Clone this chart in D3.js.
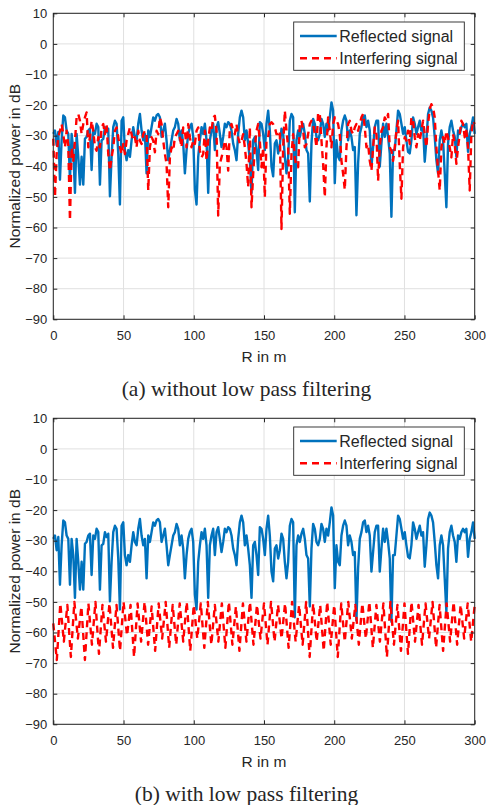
<!DOCTYPE html>
<html>
<head>
<meta charset="utf-8">
<script src="https://cdn.jsdelivr.net/npm/d3@7"></script>
<style>
  body { margin: 0; background: #fff; }
  text { font-family: "Liberation Sans", Arial, sans-serif; fill: #262626; }
</style>
</head>
<body>
<script>
const xTicks = [0, 50, 100, 150, 200, 250, 300];
const yTicks = [10, 0, -10, -20, -30, -40, -50, -60, -70, -80, -90];
const seriesNames = ["Reflected signal", "Interfering signal"];
const captions = ["(a) without low pass filtering", "(b) with low pass filtering"];
const xLabel = "R in m";
const yLabel = "Normalized power in dB";

// reflected signal, evenly spaced over 0..300 m (same in both panels)
const reflectedDb = [
  -29.4, -28.3, -33.1, -28.8, -44.4, -31.5, -23.4, -24, -28.3, -29.4,
  -44.4, -29.4, -34.7, -48.7, -29.4, -36.9, -46, -36.9, -46, -31,
  -30.4, -28.3, -27.7, -41.2, -28.3, -29.4, -26.1, -27.2, -46, -31.5,
  -31, -27.2, -28.8, -27.7, -49.8, -36.9, -27.2, -25.1, -26.1, -35.8,
  -52.5, -25.1, -24, -34.7, -38, -34.7, -36.9, -31.5, -27.2, -30.4,
  -31.5, -26.1, -22.9, -28.3, -31.5, -29.4, -42.3, -28.3, -30.4, -27.2,
  -24, -25.1, -23.4, -22.9, -24, -30.4, -28.3, -26.1, -31.5, -38,
  -34.7, -31.5, -28.3, -27.2, -24.5, -26.1, -31.5, -28.3, -32.6, -42.3,
  -34.7, -29.4, -27.2, -26.1, -30.4, -47.6, -52.5, -36.9, -31.5, -27.2,
  -29.4, -26.1, -31.5, -48.7, -31.5, -28.3, -26.1, -34.7, -27.2, -25.6,
  -29.4, -33.7, -30.4, -26.1, -27.2, -25.6, -26.1, -28.3, -32.6, -34.7,
  -38, -29.4, -24, -21.8, -24, -31.5, -28.3, -32.6, -38, -48.7,
  -31.5, -30.4, -34.7, -41.2, -25.6, -26.1,
  -29.4, -34.7, -26.1, -21.8, -28.3, -40.1, -43.3, -32.6, -31.5, -35.8,
  -33.1, -27.7, -29.4, -36.9, -42.3, -36.9, -25.1, -22.9, -24, -55,
  -31.5, -28.3, -30.4, -27.7, -26.1, -29.4, -34.7, -35.8, -51.5, -32.6,
  -24.5, -26.1, -30.4, -31.5, -29.4, -24.5, -26.1, -30.4, -26.1, -28.3,
  -24, -19.1, -21.8, -45.5, -31.5, -36.9, -38, -28.3, -25.1, -23.4,
  -25.1, -31.5, -28.3, -30.4, -34.7, -33.7, -56, -39, -29.4, -27.2,
  -24, -23.4, -27.2, -25.1, -28.3, -40.1, -33.7, -27.2, -25.1, -25.1,
  -40.1, -32.6, -26.1, -30.4, -26.1, -30.4, -35.8, -56.5, -34.7, -34.7,
  -28.3, -21.8, -22.9, -26.1, -29.4, -27.2, -31.5, -35.3, -35.8, -31.5,
  -24, -26.1, -29.4, -27.2, -25.1, -28.3, -27.2, -38.5, -31.5, -22.9,
  -20.8, -21.8, -24, -30.4, -38, -42.3, -31.5, -28.3, -31.5, -42.3,
  -53.4, -32.6, -27.2, -25.1, -28.3, -30.4, -36.9, -28.3, -29.4, -27.2,
  -26.1, -27.2, -26.1, -35.3, -29.4, -27.2, -24, -29.4
];

// interfering signal without filtering, evenly spaced over 0..300 m
const interferingDb = [
  -31, -50, -36, -30.5, -28.4, -26.2, -29.5, -33.8, -28.4, -33.3,
  -57.7, -33.8, -38.2, -31.6, -24, -22.9, -25.1, -29.5, -26.2, -24,
  -22.4, -33.8, -30.5, -25.1, -28.4, -33.8, -34.9, -30.5, -33.8, -27.3,
  -26.2, -29.5, -26.2, -36, -41.4, -37.1, -33.8, -28.4, -27.3, -30.5,
  -33.8, -36, -32.7, -36, -31.6, -29.5, -27.3, -29.5, -31.6, -30.5,
  -33.8, -28.4, -31.6, -32.7, -29.5, -28.4, -29.5, -47.9, -33.8, -30.5,
  -31.6, -35.4, -28.4, -29.5, -24, -26.2, -31.6, -36, -39.2, -53.4,
  -37.1, -33.8, -34.9, -30.5, -29.5, -28.4, -30.5, -33.8, -27.3, -28.4,
  -33.8, -26.2, -30.5, -33.8, -31.6, -32.7, -28.4, -27.3, -34.9, -37.1,
  -36, -28.4, -38.2, -31.6, -27.3, -28.4, -24, -23.5, -28.4, -56.1,
  -39.2, -37.1, -34.9, -31.6, -33.8, -41.4, -27.3, -26.2, -28.4, -29.5,
  -26.2, -30.5, -32.7, -31.6, -29.5, -33.8, -39.2, -46.8, -27.3, -53.4,
  -42.5, -33.8, -28.4, -26.2, -31.6, -40.3,
  -33.8, -50.1, -31.6, -30.5, -26.2, -25.6, -26.2, -27.3, -29.5, -29.5,
  -28.4, -60.5, -33.8, -21.8, -28.4, -33.8, -55.5, -36, -29.5, -37.1,
  -40.3, -40.3, -26.2, -25.1, -28.4, -33.8, -32.7, -29.5, -26.2, -25.1,
  -26.2, -29.5, -33.8, -22.4, -22.9, -31.6, -39.2, -50.1, -33.8, -24,
  -28.4, -33.8, -26.2, -24, -25.1, -26.2, -29.5, -38.2, -42.5, -47.7,
  -33.8, -26.2, -25.1, -28.4, -29.5, -27.3, -26.2, -28.4, -26.2, -24,
  -22.9, -27.3, -33.8, -32.7, -38.2, -41.4, -33.8, -27.3, -29.5, -44.7,
  -33.8, -28.4, -27.3, -24, -25.1, -22.9, -33.8, -34.9, -38.2, -33.8,
  -28.4, -25.1, -39.2, -50.6, -33.8, -30.5, -31.6, -28.4, -32.7, -24,
  -25.1, -30.5, -33.8, -29.5, -31.6, -28.4, -25.1, -29.5, -33.8, -26.2,
  -21.3, -19.7, -20.8, -24, -33.8, -41.4, -47.9, -33.8, -30.5, -32.7,
  -28.4, -30.5, -33.8, -37.1, -29.5, -32.7, -39.2, -33.8, -29.5, -25.1,
  -26.2, -30.5, -28.4, -33.8, -47.9, -29.5, -25.1, -26.2
];

// interfering signal after low pass filtering, every 2.5 m
const filteredDb = [
  -57, -69, -50.5, -63, -51, -68, -50, -62, -51.5, -69, -50.5, -64, -50, -67, -51, -63, -50.5, -65, -51, -66,
  -50, -61, -51, -68, -50.5, -63, -50, -64, -51.5, -66, -50.5, -62, -50, -65, -51, -64, -50.5, -63, -50, -66,
  -51, -62, -50.5, -65, -50, -64, -51, -63, -50.5, -65, -50, -64, -51.5, -66, -50.5, -63, -50, -64, -51, -62,
  -50.5, -64, -50, -63, -51, -62, -50.5, -65, -50, -63, -51, -64, -50, -68, -50.5, -63, -51, -66, -50, -64,
  -51, -68, -50.5, -63, -50, -62, -51, -64, -50.5, -62, -50, -65, -51, -63, -50.5, -68, -50, -64, -51, -66,
  -50.5, -67, -50, -63, -51, -64, -50.5, -62, -50, -65, -51, -66, -50.5, -63, -50, -64, -51, -62, -50.5, -63,
  -51
];

const blue = "#0072BD";
const red = "#FF0000";
const axisColor = "#262626";
const gridColor = "#e0e0e0";

const plotLeft = 53.3;
const plotRight = 474.7;
const plotHeight = 306;
const maxRange = 300;

const svg = d3.select("body").append("svg")
  .attr("width", 487)
  .attr("height", 805);

const x = d3.scaleLinear().domain([0, maxRange]).range([plotLeft, plotRight]);

function toPoints(values) {
  const dist = d3.scaleLinear().domain([0, values.length - 1]).range([0, maxRange]);
  return values.map((db, i) => ({ r: dist(i), db }));
}

function drawPanel(top, interfering, caption) {
  const bottom = top + plotHeight;
  const y = d3.scaleLinear().domain([-90, 10]).range([bottom, top]);
  const g = svg.append("g");

  // grid
  g.selectAll(".vgrid").data(xTicks).enter().append("line")
    .attr("x1", (d) => x(d)).attr("x2", (d) => x(d))
    .attr("y1", top).attr("y2", bottom)
    .attr("stroke", gridColor).attr("stroke-width", 1);
  g.selectAll(".hgrid").data(yTicks).enter().append("line")
    .attr("x1", plotLeft).attr("x2", plotRight)
    .attr("y1", (d) => y(d)).attr("y2", (d) => y(d))
    .attr("stroke", gridColor).attr("stroke-width", 1);

  const line = d3.line().x((d) => x(d.r)).y((d) => y(d.db));

  g.append("path")
    .datum(toPoints(reflectedDb))
    .attr("d", line)
    .attr("fill", "none")
    .attr("stroke", blue)
    .attr("stroke-width", 2.4)
    .attr("stroke-linejoin", "round");

  g.append("path")
    .datum(toPoints(interfering))
    .attr("d", line)
    .attr("fill", "none")
    .attr("stroke", red)
    .attr("stroke-width", 2.4)
    .attr("stroke-dasharray", "7,5")
    .attr("stroke-linejoin", "round");

  // axes (ticks inward on all four sides)
  const bottomAxis = g.append("g")
    .attr("transform", `translate(0,${bottom})`)
    .call(d3.axisBottom(x).tickValues(xTicks).tickSizeInner(-4).tickSizeOuter(0).tickPadding(11));
  const leftAxis = g.append("g")
    .attr("transform", `translate(${plotLeft},0)`)
    .call(d3.axisLeft(y).tickValues(yTicks).tickSizeInner(-4).tickSizeOuter(0).tickPadding(6));
  g.append("g")
    .attr("transform", `translate(0,${top})`)
    .call(d3.axisTop(x).tickValues(xTicks).tickSizeInner(-4).tickSizeOuter(0).tickFormat(""));
  g.append("g")
    .attr("transform", `translate(${plotRight},0)`)
    .call(d3.axisRight(y).tickValues(yTicks).tickSizeInner(-4).tickSizeOuter(0).tickFormat(""));

  g.selectAll(".domain").remove();
  g.selectAll(".tick line").attr("stroke", axisColor);
  [bottomAxis, leftAxis].forEach((a) => a.selectAll("text")
    .attr("fill", axisColor)
    .style("font-size", "13px")
    .style("font-family", '"Liberation Sans", Arial, sans-serif'));

  g.append("rect")
    .attr("x", plotLeft).attr("y", top)
    .attr("width", plotRight - plotLeft).attr("height", plotHeight)
    .attr("fill", "none").attr("stroke", axisColor).attr("stroke-width", 1);

  // axis labels
  g.append("text")
    .attr("x", (plotLeft + plotRight) / 2)
    .attr("y", bottom + 42.4)
    .attr("text-anchor", "middle")
    .style("font-size", "15.5px")
    .text(xLabel);
  g.append("text")
    .attr("transform", `translate(20,${(top + bottom) / 2}) rotate(-90)`)
    .attr("text-anchor", "middle")
    .style("font-size", "15.5px")
    .text(yLabel);

  // legend
  const lx = 293.7, ly = top + 8.7;
  const legend = g.append("g");
  legend.append("rect")
    .attr("x", lx).attr("y", ly).attr("width", 170.6).attr("height", 48.3)
    .attr("fill", "#fff").attr("stroke", axisColor).attr("stroke-width", 0.9);
  seriesNames.forEach((name, i) => {
    const cy = ly + 14 + i * 22.3;
    legend.append("line")
      .attr("x1", lx + 6.3).attr("x2", lx + 43)
      .attr("y1", cy).attr("y2", cy)
      .attr("stroke", i === 0 ? blue : red)
      .attr("stroke-width", 2.4)
      .attr("stroke-dasharray", i === 0 ? null : "7,5");
    legend.append("text")
      .attr("x", lx + 45.6)
      .attr("y", cy + 5.6)
      .style("font-size", "16px")
      .text(name);
  });

  // sub-caption
  g.append("text")
    .attr("x", 246.5)
    .attr("y", bottom + 76.5)
    .attr("text-anchor", "middle")
    .style("font-family", '"Liberation Serif", "Times New Roman", serif')
    .style("font-size", "21.5px")
    .attr("fill", "#000")
    .text(caption);
}

drawPanel(13.3, interferingDb, captions[0]);
drawPanel(418.3, filteredDb, captions[1]);
</script>
</body>
</html>
